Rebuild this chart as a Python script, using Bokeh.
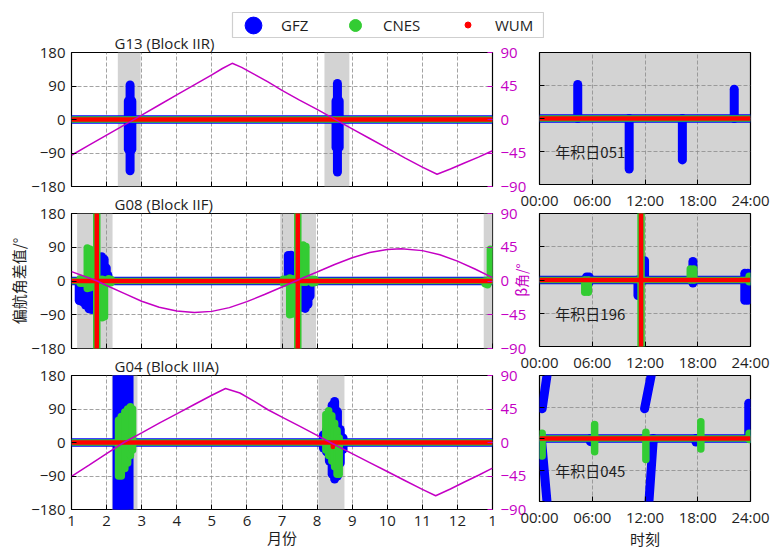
from bokeh.plotting import figure
from bokeh.layouts import column, row
from bokeh.models import (Range1d, LinearAxis, FixedTicker, Label, Legend,
                          LegendItem, Spacer, CustomJSTickFormatter)
from bokeh.embed import file_html
from bokeh.resources import INLINE

# ---------------------------------------------------------------- data
series_names = ["GFZ", "CNES", "WUM"]

month_ticks = list(range(1, 14))
month_tick_labels = [str(m) for m in range(1, 13)] + ["1"]
hour_ticks = [0, 6, 12, 18, 24]
hour_tick_labels = ["00:00", "06:00", "12:00", "18:00", "24:00"]
yaw_ticks = [-180, -90, 0, 90, 180]
beta_ticks = [-90, -45, 0, 45, 90]

year_span = [1, 13]
day_span = [0, 24]
nominal_yaw = [0, 0]          # yaw difference outside the turn manoeuvres

# G13 (Block IIR): beta angle over the year, eclipse seasons, yaw differences
g13_beta_month = [1.0, 1.5, 2.0, 2.5, 3.0, 3.5, 4.0, 4.5, 5.0, 5.3, 5.58, 5.85,
                  6.2, 6.6, 7.0, 7.5, 8.0, 8.5, 9.0, 9.5, 10.0, 10.5, 11.0,
                  11.42, 11.8, 12.2, 12.6, 13.0]
g13_beta = [-48, -34.5, -21, -7.5, 6, 19.5, 33, 46.5, 60, 68.5, 75.5, 70,
            61, 50.5, 39, 26, 13.5, 0.5, -12.5, -25.5, -38.5, -51.5, -64,
            -73.5, -66.5, -58.5, -50.5, -42]
g13_season_start = [2.32, 8.21]
g13_season_end = [2.97, 8.92]
g13_yaw = {
    "GFZ": [(2.67, -138, 93), (2.62, -80, 50), (2.72, -80, 50),
            (8.58, -141, 97), (8.54, -75, 50), (8.63, -75, 50)],
    "CNES": [],
    "WUM": [],
}

# G08 (Block IIF)
g08_beta_month = [1.0, 1.5, 1.73, 2.0, 2.5, 3.0, 3.5, 4.0, 4.5, 5.0, 5.5, 6.0,
                  6.5, 7.0, 7.39, 8.0, 8.5, 9.0, 9.5, 10.0, 10.4, 11.0, 11.5,
                  12.0, 12.5, 13.0]
g08_beta = [12.5, 4, 0, -6, -16.5, -27, -35, -40, -42, -40.5, -35.5, -27.5,
            -18, -8, 0, 12, 22, 31, 38, 42, 43, 40.5, 35, 26.5, 16, 4.5]
g08_season_start = [1.16, 6.95, 12.75]
g08_season_end = [2.17, 7.97, 13.0]
g08_yaw = {
    "GFZ": [(1.22, -52, 0), (1.30, -55, 0), (1.40, -64, 0), (1.50, -74, 0),
            (1.58, -76, 0), (1.86, 0, 65), (1.93, 0, 58), (1.99, 0, 35),
            (2.04, 0, 15),
            (7.18, 0, 68), (7.26, 0, 69), (7.33, 0, 58), (7.58, -70, 0),
            (7.66, -73, 0), (7.74, -62, 0), (7.80, -40, 0)],
    "CNES": [(1.25, -6, 6), (1.33, -6, 5), (1.45, -20, 88), (1.53, -18, 85),
             (1.87, -98, 5), (1.94, -95, 3), (2.06, -5, 6), (2.13, -4, 4),
             (1.72, -180, 180),
             (7.04, -5, 5), (7.12, -5, 5), (7.22, -90, 8), (7.30, -88, 6),
             (7.60, -3, 96), (7.68, -3, 92), (7.86, -5, 5), (7.94, -4, 4),
             (7.45, -180, 180),
             (12.79, -7, 0), (12.86, -10, 0), (12.94, 0, 85)],
    "WUM": [(1.72, -180, 180), (7.45, -180, 180)],
}

# G04 (Block IIIA)
g04_beta_month = [1.0, 1.5, 2.0, 2.49, 3.0, 3.5, 4.0, 4.5, 5.0, 5.39, 5.8, 6.2,
                  6.6, 7.0, 7.5, 8.0, 8.38, 9.0, 9.5, 10.0, 10.5, 11.0, 11.38,
                  11.8, 12.2, 12.6, 13.0]
g04_beta = [-45.5, -30.5, -15, 0, 13, 26, 38.5, 51, 63.5, 72.5, 66.5, 55.5,
            44, 34, 22, 9.5, 0, -15, -27, -39, -51, -63, -71.5, -62.5, -53,
            -44, -34.5]
g04_season_start = [2.15, 8.04]
g04_season_end = [2.88, 8.78]
g04_yaw = {
    "GFZ": [(2.30, -180, 180), (2.40, -180, 180), (2.50, -180, 180),
            (2.64, -180, 180),
            (8.18, -15, 20), (8.27, -25, 33), (8.35, -50, 70),
            (8.43, -85, 100), (8.50, -98, 110), (8.58, -90, 83),
            (8.66, -55, 35), (8.74, -18, 12)],
    "CNES": [(2.34, -90, 60), (2.42, -90, 70), (2.52, -70, 82),
             (2.60, -55, 90), (2.68, -35, 96), (2.74, -20, 90),
             (8.25, -20, 75), (8.33, -35, 85), (8.42, -50, 72),
             (8.50, -65, 52), (8.57, -85, 32), (8.63, -85, 12)],
    "WUM": [(8.45, -12, -6)],
}

# single days (hour of day) - day of year 051, 196, 045
doy051_yaw = {
    "GFZ": [(4.35, 0, 93), (10.2, -138, 0), (16.25, -113, 0), (22.15, 0, 80)],
    "CNES": [],
    "WUM": [],
}
doy196_yaw = {
    "GFZ": [(5.35, -8, 8), (5.65, -6, 8), (11.2, -42, 0), (11.95, 0, 52),
            (17.45, -8, 50), (23.35, -55, 18), (23.7, -55, 18)],
    "CNES": [(5.15, -33, 0), (5.55, -33, 0), (11.55, -180, 180),
             (17.15, 0, 30), (17.55, 0, 30), (23.85, -5, 10)],
    "WUM": [(11.55, -180, 180)],
}
doy045_yaw = {
    "GFZ": [(0.30, 85, 0.85, 180), (0.25, -10, 0.85, -180), (5.8, -9, 5.8, 0),
            (11.95, 85, 12.7, 180), (12.45, -180, 12.95, 0),
            (17.8, -10, 17.8, 0), (23.8, 0, 23.8, 101)],
    "CNES": [(0.30, -50, 15), (6.27, -38, 40), (12.1, -60, 18),
             (18.35, -30, 48), (23.85, -3, 15)],
    "WUM": [],
}

# ---------------------------------------------------------------- styles
LATIN = "Open Sans"
CJK = "Noto Sans CJK SC"
INK = "#1e1e1e"
MAGENTA = "#c400c4"
SEASON_GRAY = "#d3d3d3"
GRID_GRAY = "#8c8c8c"
COLORS = {"GFZ": "#0000ff", "CNES": "#33cc33", "WUM": "#ff0000"}
STROKE_W = {"GFZ": 9, "CNES": 7.5, "WUM": 4.5}
BASE_W = {"GFZ": 8.5, "CNES": 6.5, "WUM": 4.5}
NO_LABELS = CustomJSTickFormatter(code="return ''")


def add_strokes(p, strokes, name):
    if not strokes:
        return
    segs = [s if len(s) == 4 else (s[0], s[1], s[0], s[2]) for s in strokes]
    p.segment(x0=[s[0] for s in segs], y0=[s[1] for s in segs],
              x1=[s[2] for s in segs], y1=[s[3] for s in segs],
              line_color=COLORS[name], line_width=STROKE_W[name],
              line_cap="round")


def add_series(p, yaw, span):
    for name in series_names:
        add_strokes(p, yaw[name], name)
        p.line(span, nominal_yaw, line_color=COLORS[name],
               line_width=BASE_W[name])


def style_axis(ax, color, standoff, labels=True):
    ax.axis_line_color = None
    ax.major_tick_in = 5
    ax.major_tick_out = 0
    ax.major_tick_line_color = color
    ax.minor_tick_line_color = None
    ax.major_label_standoff = standoff
    ax.major_label_text_font = LATIN
    ax.major_label_text_font_size = "15px"
    ax.major_label_text_color = INK if color == "black" else color
    ax.axis_label_text_font_style = "normal"
    if not labels:
        ax.formatter = NO_LABELS


def axis_title(ax, text, size, color, standoff):
    ax.axis_label = text
    ax.axis_label_text_font = CJK
    ax.axis_label_text_font_size = size
    ax.axis_label_text_color = color
    ax.axis_label_standoff = standoff


def style_grid(p):
    for g in (p.xgrid, p.ygrid):
        g.grid_line_color = GRID_GRAY
        g.grid_line_dash = "4 2"
        g.grid_line_width = 0.8


def style_title(p, text):
    p.title.text = text
    p.title.text_font = LATIN
    p.title.text_font_size = "15px"
    p.title.text_font_style = "normal"
    p.title.text_color = INK
    p.title.align = "left"
    p.title.offset = 43
    p.title.standoff = 0


def month_panel(title, beta_m, beta, s_start, s_end, yaw, *, height, top,
                bottom, show_labels, overlap=0):
    # transparent border so neighbouring panels' tick labels stay visible
    p = figure(width=534, height=height, x_range=Range1d(1, 13),
               y_range=Range1d(-180, 180), output_backend="svg",
               toolbar_location=None, min_border_left=71, min_border_right=42,
               min_border_top=top, min_border_bottom=bottom,
               border_fill_alpha=0, margin=(-overlap, 0, 0, 0))
    p.extra_y_ranges = {"beta": Range1d(-90, 90)}
    p.outline_line_color = "black"
    p.outline_line_width = 1.2
    style_grid(p)
    style_title(p, title)

    p.quad(left=s_start, right=s_end, bottom=yaw_ticks[0], top=yaw_ticks[-1],
           fill_color=SEASON_GRAY, line_color=None, level="image")
    add_series(p, yaw, year_span)
    p.line(beta_m, beta, y_range_name="beta", line_color=MAGENTA,
           line_width=1.5)

    xa = p.xaxis[0]
    xa.ticker = FixedTicker(ticks=month_ticks)
    if show_labels:
        xa.major_label_overrides = dict(zip(month_ticks, month_tick_labels))
        style_axis(xa, "black", 6)
    else:
        style_axis(xa, "black", 0, labels=False)
    ya = p.yaxis[0]
    ya.ticker = FixedTicker(ticks=yaw_ticks)
    style_axis(ya, "black", 6)

    ra = LinearAxis(y_range_name="beta", ticker=FixedTicker(ticks=beta_ticks))
    style_axis(ra, MAGENTA, 8)
    p.add_layout(ra, "right")
    return p


def day_panel(doy_text, yaw, *, height, top, bottom):
    p = figure(width=265, height=height, x_range=Range1d(0, 24),
               y_range=Range1d(-180, 180), output_backend="svg",
               toolbar_location=None, min_border_left=34, min_border_right=20,
               min_border_top=top, min_border_bottom=bottom,
               background_fill_color=SEASON_GRAY, border_fill_alpha=0)
    p.outline_line_color = "black"
    p.outline_line_width = 1.2
    style_grid(p)
    add_series(p, yaw, day_span)

    xa = p.xaxis[0]
    xa.ticker = FixedTicker(ticks=hour_ticks)
    xa.major_label_overrides = dict(zip(hour_ticks, hour_tick_labels))
    style_axis(xa, "black", 5)
    ya = p.yaxis[0]
    ya.ticker = FixedTicker(ticks=yaw_ticks)
    style_axis(ya, "black", 0, labels=False)

    p.add_layout(Label(x=1.8, y=-90, text=doy_text, text_font=CJK,
                       text_font_size="15px", text_color=INK,
                       text_baseline="middle"))
    return p


# ---------------------------------------------------------------- panels
L1 = month_panel("G13 (Block IIR)", g13_beta_month, g13_beta,
                 g13_season_start, g13_season_end, g13_yaw,
                 height=176, top=28, bottom=14, show_labels=False)
L2 = month_panel("G08 (Block IIF)", g08_beta_month, g08_beta,
                 g08_season_start, g08_season_end, g08_yaw,
                 height=173, top=24, bottom=14, show_labels=False, overlap=11)
L3 = month_panel("G04 (Block IIIA)", g04_beta_month, g04_beta,
                 g04_season_start, g04_season_end, g04_yaw,
                 height=200, top=24, bottom=42, show_labels=True, overlap=11)

axis_title(L2.yaxis[0], "偏航角差值/°", "15px", INK, -1)
axis_title(L3.xaxis[0], "月份", "15px", INK, -2)

R1 = day_panel("年积日051", doy051_yaw, height=188, top=28, bottom=26)
R2 = day_panel("年积日196", doy196_yaw, height=162, top=1, bottom=26)
R3 = day_panel("年积日045", doy045_yaw, height=177, top=1, bottom=42)

# the beta-angle title sits between the middle pair of panels
axis_title(R2.yaxis[0], "β角/°", "14px", MAGENTA, 9)
axis_title(R3.xaxis[0], "时刻", "15px", INK, -2)

# ---------------------------------------------------------------- legend
leg = figure(width=313, height=38, x_range=Range1d(0, 1), y_range=Range1d(0, 1),
             x_axis_type=None, y_axis_type=None, output_backend="svg",
             toolbar_location=None, min_border_left=1, min_border_right=1,
             min_border_top=12, min_border_bottom=1)
leg.outline_line_color = "#cfcfcf"
leg.outline_line_width = 1.2
leg.xgrid.visible = False
leg.ygrid.visible = False

no_point = [float("nan")]
key_layout = {"GFZ": (0, 42, 42, 7), "CNES": (108, 30, 30, 13),
              "WUM": (228, 15, 21, 20)}
for name in series_names:
    r = leg.scatter(x=no_point, y=no_point, marker="circle",
                    fill_color=COLORS[name], line_color=COLORS[name])
    x0, gw, gh, standoff = key_layout[name]
    lg = Legend(items=[LegendItem(label=name, renderers=[r])],
                location=(x0, 12.5 - gh / 2), glyph_width=gw, glyph_height=gh,
                label_standoff=standoff, padding=0, margin=0, spacing=0,
                border_line_alpha=0, background_fill_alpha=0,
                label_text_font=LATIN, label_text_font_size="15px",
                label_text_color=INK, label_text_baseline="middle")
    leg.add_layout(lg)

# ---------------------------------------------------------------- layout
legend_row = row(Spacer(width=231, height=38), leg, margin=(0, 0, -14, 0))
left_col = column(L1, L2, L3)
right_col = column(R1, R2, R3, margin=(0, 0, 0, -29))
page = column(legend_row, row(left_col, right_col))

open("out.html", "w").write(file_html(page, INLINE, title="yaw"))
